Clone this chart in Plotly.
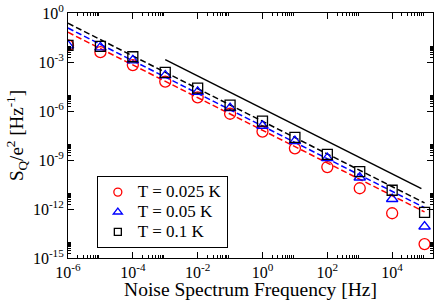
import plotly.graph_objects as go

# ---- data ----
freq = [1e-6, 1e-5, 1e-4, 1e-3, 1e-2, 1e-1, 1e0, 1e1, 1e2, 1e3, 1e4, 1e5]
sq_025 = [1.05e-2, 4.0e-3, 6.5e-4, 6.3e-5, 6.9e-6, 6.8e-7, 5.5e-8, 5.2e-9, 3.7e-10, 1.86e-11, 5.5e-13, 7.1e-15]
sq_05 = [1.05e-2, 7.9e-3, 1.26e-3, 1.5e-4, 1.5e-5, 1.5e-6, 1.25e-7, 1.45e-8, 1.3e-9, 8.5e-11, 4.1e-12, 8.5e-14]
sq_10 = [1.05e-2, 9.1e-3, 2.1e-3, 2.3e-4, 2.5e-5, 2.3e-6, 2.4e-7, 2.4e-8, 2.2e-9, 1.95e-10, 1.41e-11, 6.3e-13]

fit_f = [1e-6, 1e5]
fit_025 = [6.6e-2, 6.6e-13]
fit_05 = [1.2e-1, 1.2e-12]
fit_10 = [2.35e-1, 2.35e-12]

ref_f = [1e-3, 8e4]
ref_s = [1.41e-3, 1.76e-11]

labels = ["T = 0.025 K", "T = 0.05 K", "T = 0.1 K"]
colors = ["#ff0000", "#0000ff", "#000000"]
symbols = ["circle-open", "triangle-up-open", "square-open"]
msizes = [11, 10, 10]
legend_sizes = [8, 8, 7]

xtick_vals = [1e-6, 1e-4, 1e-2, 1e0, 1e2, 1e4]
xtick_text = ["10<sup>-6</sup>", "10<sup>-4</sup>", "10<sup>-2</sup>", "10<sup>0</sup>",
              "10<sup>2</sup>", "10<sup>4</sup>"]
ytick_vals = [1e-15, 1e-12, 1e-9, 1e-6, 1e-3, 1e0]
ytick_text = ["10<sup>-15</sup>", "10<sup>-12</sup>", "10<sup>-9</sup>", "10<sup>-6</sup>",
              "10<sup>-3</sup>", "10<sup>0</sup>"]

FONT = "Liberation Serif"

fig = go.Figure()

# fit lines
for ys, c in zip([fit_025, fit_05, fit_10], colors):
    fig.add_trace(go.Scatter(x=fit_f, y=ys, mode="lines", showlegend=False,
                             line=dict(color=c, width=1.5, dash="6px,3px")))
# reference slope line
fig.add_trace(go.Scatter(x=ref_f, y=ref_s, mode="lines", showlegend=False,
                         line=dict(color="black", width=1.5)))

# data
for ys, c, s, m in zip([sq_025, sq_05, sq_10], colors, symbols, msizes):
    fig.add_trace(go.Scatter(x=freq, y=ys, mode="markers", showlegend=False,
                             marker=dict(symbol=s, size=m, color=c, line=dict(width=1.3, color=c))))

# legend entries
for lab, c, s, m in zip(labels, colors, symbols, legend_sizes):
    fig.add_trace(go.Scatter(x=[None], y=[None], mode="markers",
                             name='<span style="font-size:17px">' + lab + "</span>",
                             marker=dict(symbol=s, size=m, color=c, line=dict(width=1.3, color=c))))

def minor_vals(exps):
    out = []
    for e in exps:
        for k in range(2, 10):
            out.append(k * 10.0 ** e)
    return out

fig.update_layout(
    width=436, height=300,
    margin=dict(l=68, r=2, t=10, b=42),
    paper_bgcolor="white", plot_bgcolor="white",
    font=dict(family=FONT, color="black", size=16),
    showlegend=True,
    legend=dict(x=0.079, y=0.334, xanchor="left", yanchor="top",
                bordercolor="black", borderwidth=1, bgcolor="white",
                font=dict(family=FONT, size=13), tracegroupgap=0),
    xaxis=dict(type="log", range=[-6, 5.26], showgrid=False, zeroline=False,
               showline=True, linecolor="black", linewidth=1, mirror="ticks",
               ticks="inside", ticklen=6, tickcolor="black",
               tickmode="array", tickvals=xtick_vals, ticktext=xtick_text,
               tickfont=dict(family=FONT, size=16), ticklabeloverflow="allow",
               minor=dict(ticks="inside", ticklen=3, tickcolor="black",
                          tickmode="array", tickvals=minor_vals([-6, -4, -2, 0, 2, 4])),
               title=dict(text="Noise Spectrum Frequency [Hz]", font=dict(family=FONT, size=19.5),
                          standoff=0)),
    yaxis=dict(type="log", range=[-15, 0], showgrid=False, zeroline=False,
               showline=True, linecolor="black", linewidth=1, mirror="ticks",
               ticks="inside", ticklen=6, tickcolor="black",
               tickmode="array", tickvals=ytick_vals, ticktext=ytick_text,
               tickfont=dict(family=FONT, size=16), ticklabeloverflow="allow",
               minor=dict(ticks="inside", ticklen=3, tickcolor="black",
                          tickmode="array", tickvals=minor_vals([-15, -12, -9, -6, -3])),
               title=dict(text="S<sub>Q</sub>/e<sup>2</sup> [Hz<sup>-1</sup>]",
                          font=dict(family=FONT, size=19), standoff=4)),
)

fig.write_html("out.html", config={"displayModeBar": False},
               post_script="document.body.style.margin='0';document.body.style.padding='0';")
